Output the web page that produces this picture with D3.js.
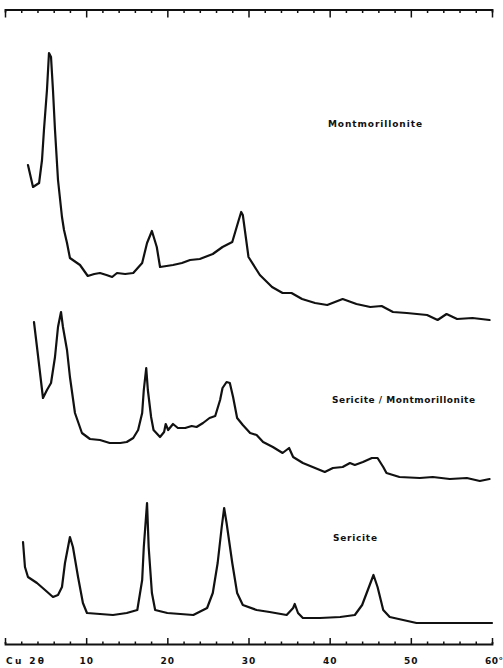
<!DOCTYPE html>
<html>
<head>
<meta charset="utf-8">
<script src="https://cdn.jsdelivr.net/npm/d3@7"></script>
<style>
  html, body { margin: 0; padding: 0; background: #fff; }
  svg { display: block; }
  .lbl { font-family: "DejaVu Sans", "Liberation Sans", Arial, sans-serif; font-weight: bold; fill: #111; }
</style>
</head>
<body>
<svg id="chart" width="503" height="668"></svg>
<script>
// X-ray diffraction patterns (Cu Kα, 2θ in degrees), stacked vertically.

// Montmorillonite
const montTheta = [2.83, 3.45, 4.2, 4.56, 4.8, 5.17, 5.42, 5.67, 5.91, 6.16, 6.53, 7.02, 7.27, 7.64, 8.0, 9.24, 10.2, 11.0, 11.7, 12.5, 13.2, 13.8, 14.8, 15.8, 16.9, 17.5, 18.1, 18.7, 19.1, 20.7, 21.8, 22.8, 24.0, 25.6, 26.8, 28.0, 28.8, 29.1, 29.3, 30.0, 31.4, 32.9, 34.2, 35.3, 36.6, 38.2, 39.7, 41.6, 43.3, 45.0, 46.4, 47.8, 49.5, 52.0, 53.3, 54.4, 55.7, 57.6, 59.7];
const montI     = [158, 136, 140, 163, 193, 233, 270, 266, 233, 193, 143, 106, 93, 80, 65, 58, 47, 49, 50, 48, 46, 50, 49, 50, 60, 80, 92, 76, 56, 58, 60, 63, 64, 69, 76, 81, 103, 111, 108, 66, 48, 36, 30, 30, 24, 20, 18, 24, 19, 16, 17, 11, 10, 8, 3, 9, 4, 5, 3];

// Sericite / Montmorillonite mixture
const mixTheta = [3.57, 3.94, 4.68, 5.17, 5.67, 6.16, 6.53, 6.9, 7.14, 7.64, 8.0, 8.62, 9.48, 10.47, 11.7, 12.9, 14.2, 15.0, 15.8, 16.4, 16.9, 17.1, 17.4, 17.6, 18.0, 18.3, 19.1, 19.6, 19.8, 20.1, 20.7, 21.3, 22.2, 23.0, 23.6, 24.4, 25.2, 25.9, 26.5, 26.8, 27.3, 27.7, 28.1, 28.6, 29.3, 30.2, 31.0, 31.8, 33.0, 34.2, 35.0, 35.5, 36.7, 37.9, 39.4, 40.4, 41.6, 42.5, 43.1, 44.1, 45.2, 45.9, 46.6, 47.0, 48.6, 51.1, 52.7, 54.8, 56.9, 58.5, 59.7];
const mixI     = [166, 141, 90, 98, 105, 131, 161, 176, 161, 138, 111, 75, 55, 49, 48, 45, 45, 46, 50, 58, 75, 98, 120, 98, 71, 58, 51, 56, 64, 58, 64, 60, 60, 62, 61, 65, 70, 72, 88, 100, 106, 105, 91, 70, 63, 55, 53, 46, 41, 35, 40, 31, 25, 21, 16, 20, 21, 25, 23, 26, 30, 30, 21, 15, 11, 10, 11, 9, 10, 7, 9];

// Sericite
const serTheta = [2.22, 2.46, 2.83, 3.94, 4.93, 5.91, 6.53, 7.02, 7.39, 8.0, 8.37, 9.0, 9.6, 10.1, 11.7, 13.3, 15.0, 16.3, 16.9, 17.1, 17.5, 17.7, 18.1, 18.5, 20.0, 21.6, 23.2, 24.9, 25.6, 26.2, 26.7, 27.0, 27.3, 28.0, 28.6, 29.3, 31.0, 32.6, 34.7, 35.5, 35.7, 36.1, 36.7, 38.8, 41.3, 43.1, 44.0, 44.7, 45.4, 45.9, 46.6, 47.4, 50.7, 54.8, 60.0];
const serI     = [86, 61, 51, 45, 38, 31, 33, 41, 65, 91, 81, 51, 25, 15, 14, 13, 15, 18, 48, 81, 125, 81, 35, 18, 15, 14, 13, 20, 35, 65, 101, 120, 105, 65, 35, 23, 18, 16, 13, 20, 24, 15, 10, 10, 11, 13, 23, 38, 53, 41, 18, 11, 5, 5, 5];

// Vertical stacking offsets (intensity units) and names
const seriesNames  = ["Montmorillonite", "Sericite / Montmorillonite", "Sericite"];
const stackOffsets = [320, 155, 15];

// Axis ticks and labels
const minorTicks = d3.range(0, 61, 2);
const majorTicks = [10, 20, 30, 40, 50];
const tickLabels = ["10", "20", "30", "40", "50"];
const endLabel   = "60°";
const axisTitle  = "Cu 2θ";

const svg = d3.select("#chart");

const x = d3.scaleLinear().domain([0, 60]).range([5, 492]);
const y = d3.scaleLinear().domain([0, 640]).range([643, 3]);

const series = [
  { theta: montTheta, I: montI },
  { theta: mixTheta,  I: mixI },
  { theta: serTheta,  I: serI }
];

const line = d3.line()
  .x(d => x(d[0]))
  .y(d => y(d[1]))
  .curve(d3.curveLinear);

series.forEach((s, k) => {
  const pts = s.theta.map((t, i) => [t, s.I[i] + stackOffsets[k]]);
  svg.append("path")
    .datum(pts)
    .attr("d", line)
    .attr("fill", "none")
    .attr("stroke", "#111")
    .attr("stroke-width", 2.2)
    .attr("stroke-linejoin", "round")
    .attr("stroke-linecap", "round");
});

// Bottom axis: ticks pointing up, labels below
const bottomY = 644;
const gb = svg.append("g").attr("transform", `translate(0,${bottomY})`)
  .call(d3.axisTop(x).tickValues(minorTicks).tickFormat("").tickSizeOuter(0).tickSize(2));
gb.selectAll(".tick line")
  .attr("y2", d => (d % 10 === 0 ? -6 : -2.5))
  .attr("stroke-width", 1.5)
  .attr("stroke", "#111");
gb.select(".domain").attr("stroke-width", 1.8).attr("stroke", "#111");

const gl = svg.append("g").attr("transform", `translate(0,${bottomY})`)
  .call(d3.axisBottom(x).tickValues(majorTicks)
    .tickFormat((d, i) => tickLabels[i]).tickSize(0).tickPadding(14));
gl.select(".domain").remove();
gl.selectAll("text")
  .attr("class", "lbl")
  .attr("font-size", 9)
  .style("letter-spacing", "1px");

svg.append("text").attr("class", "lbl")
  .attr("x", x(60) - 7).attr("y", 664)
  .attr("font-size", 9)
  .style("letter-spacing", "0.5px")
  .text(endLabel);

svg.append("text").attr("class", "lbl")
  .attr("x", 6).attr("y", 664)
  .attr("font-size", 9)
  .attr("textLength", 38)
  .attr("lengthAdjust", "spacing")
  .text(axisTitle);

// Top axis: ticks pointing down
const topY = 9.5;
const gt = svg.append("g").attr("transform", `translate(0,${topY})`)
  .call(d3.axisBottom(x).tickValues(minorTicks).tickFormat("").tickSizeOuter(0).tickSize(3));
gt.selectAll(".tick line")
  .attr("y2", d => (d % 10 === 0 ? 8 : (d === 0 ? 6 : 3.5)))
  .attr("stroke-width", 1.5)
  .attr("stroke", "#111");
gt.select(".domain").attr("stroke-width", 1.8).attr("stroke", "#111");

// Pattern names
const labelPos = [[328, 127], [332, 403], [333, 541]];
const labelWidths = [94, 143, 44];
seriesNames.forEach((name, k) => {
  svg.append("text").attr("class", "lbl")
    .attr("x", labelPos[k][0]).attr("y", labelPos[k][1])
    .attr("font-size", 9)
    .attr("textLength", labelWidths[k])
    .attr("lengthAdjust", "spacing")
    .text(name);
});
</script>
</body>
</html>
